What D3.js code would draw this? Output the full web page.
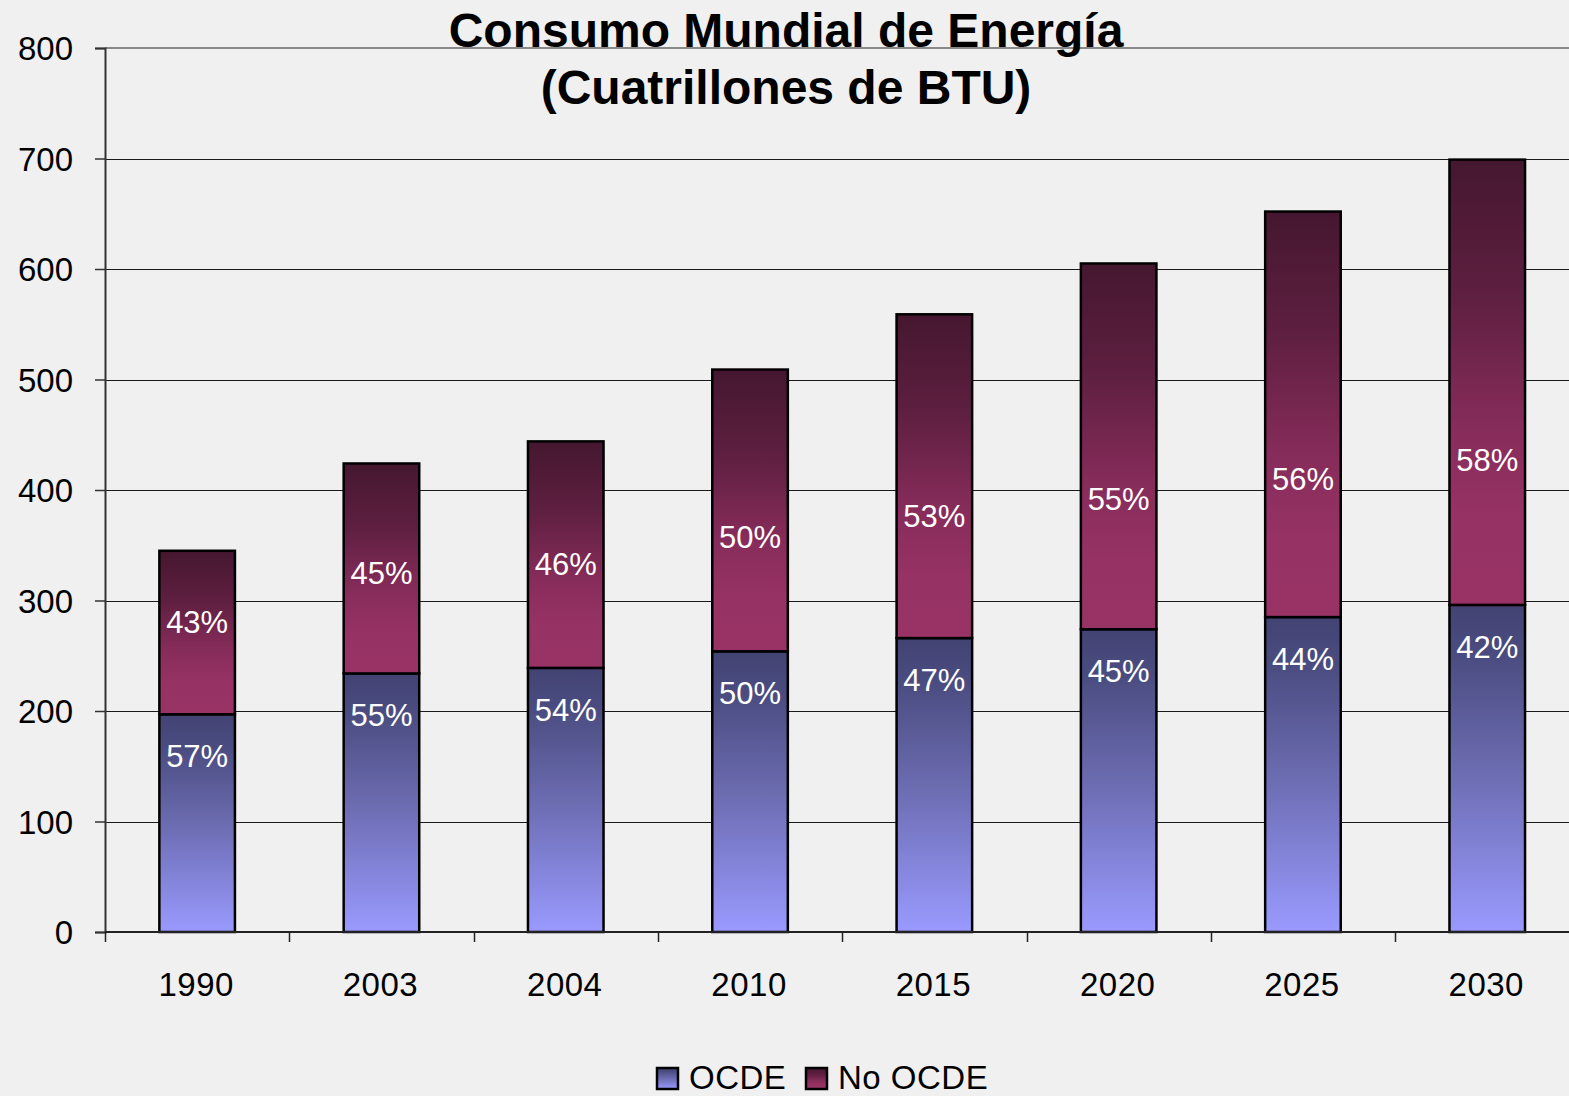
<!DOCTYPE html>
<html>
<head>
<meta charset="utf-8">
<script src="https://cdn.jsdelivr.net/npm/d3@7"></script>
<style>
  body { margin: 0; background: #f0f0f0; }
  svg { display: block; font-family: "Liberation Sans", Arial, sans-serif; }
</style>
</head>
<body>
<script>
const WIDTH = 1569;
const HEIGHT = 1096;
const LEFT = 105;
const TOP = 48;
const BOTTOM = 932;
const BAND = 184.3;

// data
const YEARS = ["1990", "2003", "2004", "2010", "2015", "2020", "2025", "2030"];
const OCDE = [197, 234, 239, 254, 266, 274, 285, 296];
const NO_OCDE = [148, 190, 205, 255, 293, 331, 367, 403];
const PCT_OCDE = ["57%", "55%", "54%", "50%", "47%", "45%", "44%", "42%"];
const PCT_NO_OCDE = ["43%", "45%", "46%", "50%", "53%", "55%", "56%", "58%"];
const Y_TICKS = [0, 100, 200, 300, 400, 500, 600, 700, 800];
const SERIES = ["OCDE", "No OCDE"];

const svg = d3.select("body")
              .append("svg")
              .attr("width", WIDTH)
              .attr("height", HEIGHT);

//gradients for the two series
const defs = svg.append("defs");
const addGradient = (id, stops) => {
  const g = defs.append("linearGradient")
                .attr("id", id)
                .attr("x1", 0).attr("y1", 0)
                .attr("x2", 0).attr("y2", 1);
  stops.forEach(s => g.append("stop").attr("offset", s[0]).attr("stop-color", s[1]));
};
addGradient("gOcde", [[0, "#434373"], [0.15, "#4a4c80"], [0.5, "#6b6bb0"], [1, "#9a9aff"]]);
addGradient("gNo", [[0, "#45172f"], [0.3, "#5e1f40"], [0.6, "#862c5a"], [0.8, "#963264"], [1, "#993366"]]);

//scales
const xScale = d3.scaleBand()
                 .domain(YEARS)
                 .range([LEFT, LEFT + BAND * YEARS.length])
                 .paddingInner(0.59)
                 .paddingOuter(0.295);
const yScale = d3.scaleLinear()
                 .domain([0, 800])
                 .range([BOTTOM, TOP]);

//grid lines
svg.append("g")
   .selectAll("line")
   .data(Y_TICKS.slice(1, -1))
   .enter()
   .append("line")
   .attr("x1", LEFT)
   .attr("x2", WIDTH)
   .attr("y1", d => Math.round(yScale(d)) + 0.5)
   .attr("y2", d => Math.round(yScale(d)) + 0.5)
   .attr("stroke", "#1a1a1a")
   .attr("stroke-width", 1);

//top border of the plot area
svg.append("line")
   .attr("x1", LEFT).attr("x2", WIDTH)
   .attr("y1", yScale(800)).attr("y2", yScale(800))
   .attr("stroke", "#888")
   .attr("stroke-width", 2);

//bars
const rows = YEARS.map((y, i) => ({ year: y, a: OCDE[i], b: NO_OCDE[i], pa: PCT_OCDE[i], pb: PCT_NO_OCDE[i] }));
const bars = svg.append("g");

bars.selectAll(".ocde")
    .data(rows)
    .enter()
    .append("rect")
    .attr("class", "ocde")
    .attr("x", d => xScale(d.year))
    .attr("y", d => yScale(d.a))
    .attr("width", xScale.bandwidth())
    .attr("height", d => yScale(0) - yScale(d.a))
    .attr("fill", "url(#gOcde)")
    .attr("stroke", "#000")
    .attr("stroke-width", 2.5);

bars.selectAll(".noocde")
    .data(rows)
    .enter()
    .append("rect")
    .attr("class", "noocde")
    .attr("x", d => xScale(d.year))
    .attr("y", d => yScale(d.a + d.b))
    .attr("width", xScale.bandwidth())
    .attr("height", d => yScale(d.a) - yScale(d.a + d.b))
    .attr("fill", "url(#gNo)")
    .attr("stroke", "#000")
    .attr("stroke-width", 2.5);

//percentage labels
const labels = svg.append("g")
                  .attr("fill", "#fff")
                  .attr("font-size", 31)
                  .attr("text-anchor", "middle");

labels.selectAll(".la")
      .data(rows)
      .enter()
      .append("text")
      .attr("x", d => xScale(d.year) + xScale.bandwidth() / 2)
      .attr("y", d => yScale(d.a - 38) + 11)
      .text(d => d.pa);

labels.selectAll(".lb")
      .data(rows)
      .enter()
      .append("text")
      .attr("x", d => xScale(d.year) + xScale.bandwidth() / 2)
      .attr("y", d => yScale(d.a + 55 + 0.19 * d.b) + 11)
      .text(d => d.pb);

//axes
const yAxis = d3.axisLeft(yScale)
                .tickValues(Y_TICKS)
                .tickSize(10)
                .tickPadding(22);
const yG = svg.append("g")
              .attr("transform", "translate(" + LEFT + ",0)")
              .call(yAxis);
yG.select(".domain").attr("stroke", "#333").attr("stroke-width", 2);
yG.selectAll(".tick line").attr("stroke", "#333").attr("stroke-width", 1.5);
yG.selectAll("text")
  .attr("font-size", 33)
  .attr("font-family", "Liberation Sans, Arial, sans-serif")
  .attr("fill", "#000")
  .attr("dy", "0.36em");

const xBound = d3.scaleLinear().domain([0, YEARS.length]).range([LEFT, LEFT + BAND * YEARS.length]);
const xG = svg.append("g");
xG.append("line")
  .attr("x1", LEFT).attr("x2", WIDTH)
  .attr("y1", BOTTOM).attr("y2", BOTTOM)
  .attr("stroke", "#222")
  .attr("stroke-width", 2);
xG.selectAll(".xt")
  .data(d3.range(YEARS.length + 1))
  .enter()
  .append("line")
  .attr("x1", d => Math.round(xBound(d)) + 0.5)
  .attr("x2", d => Math.round(xBound(d)) + 0.5)
  .attr("y1", BOTTOM)
  .attr("y2", BOTTOM + 10)
  .attr("stroke", "#222")
  .attr("stroke-width", 1.5);
xG.selectAll(".xl")
  .data(YEARS)
  .enter()
  .append("text")
  .attr("x", d => xScale(d) + xScale.bandwidth() / 2 - 1)
  .attr("y", 996)
  .attr("text-anchor", "middle")
  .attr("font-size", 33)
  .attr("letter-spacing", 0.5)
  .text(d => d);

//title
const title = svg.append("text")
                 .attr("text-anchor", "middle")
                 .attr("font-weight", "bold")
                 .attr("font-size", 48);
title.append("tspan").attr("x", 786).attr("y", 47).text("Consumo Mundial de Energía");
title.append("tspan").attr("x", 786).attr("y", 104).text("(Cuatrillones de BTU)");

//legend
const legend = svg.append("g").attr("transform", "translate(657, 1068)");
const legendX = [0, 149];
const legendFill = ["url(#gOcde)", "url(#gNo)"];
SERIES.forEach((s, i) => {
  legend.append("rect")
        .attr("x", legendX[i])
        .attr("y", 0)
        .attr("width", 21)
        .attr("height", 21)
        .attr("fill", legendFill[i])
        .attr("stroke", "#000")
        .attr("stroke-width", 2.5);
  legend.append("text")
        .attr("x", legendX[i] + 32)
        .attr("y", 21)
        .attr("font-size", 33)
        .attr("letter-spacing", 0.5)
        .text(s);
});
</script>
</body>
</html>
